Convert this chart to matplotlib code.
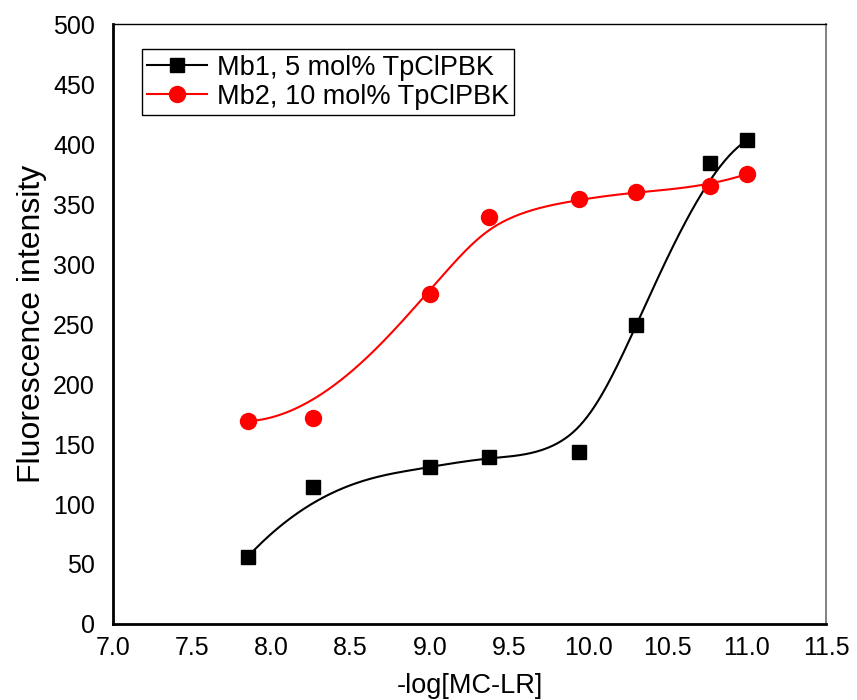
import matplotlib
matplotlib.use("Agg")
import matplotlib.pyplot as plt
import numpy as np

plt.rcParams['font.family'] = ['Liberation Sans', 'DejaVu Sans']

# datos
x_log = [7.85, 8.26, 9.00, 9.37, 9.94, 10.30, 10.77, 11.00]
mb1 = [56, 114, 131, 139, 143, 249, 384, 403]
mb2 = [169, 172, 275, 339, 354, 360, 365, 375]

lbl_mb1 = 'Mb1, 5 mol% TpClPBK'
lbl_mb2 = 'Mb2, 10 mol% TpClPBK'


# curva B-spline cubica (los puntos son puntos de control, como en Origin)
def bspline(px, py, k=3, n_out=400):
    px = np.asarray(px, float)
    py = np.asarray(py, float)
    n = len(px)
    knots = np.concatenate([[0.0] * k, np.linspace(0, 1, n - k + 1), [1.0] * k])
    t = np.linspace(0, 1, n_out)
    N = np.zeros((n_out, len(knots) - 1))
    for i in range(len(knots) - 1):
        N[:, i] = (t >= knots[i]) & (t < knots[i + 1])
    last = np.where(knots[:-1] < knots[1:])[0][-1]
    N[t == 1.0, last] = 1.0
    for d in range(1, k + 1):
        Nn = np.zeros((n_out, len(knots) - 1 - d))
        for i in range(len(knots) - 1 - d):
            a = knots[i + d] - knots[i]
            b = knots[i + d + 1] - knots[i + 1]
            term = 0.0
            if a > 0:
                term = term + (t - knots[i]) / a * N[:, i]
            if b > 0:
                term = term + (knots[i + d + 1] - t) / b * N[:, i + 1]
            Nn[:, i] = term
        N = Nn
    return N @ px, N @ py


fig = plt.figure(figsize=(8.57, 7.0), dpi=100)
ax = fig.add_axes([0.1319, 0.1086, 0.832, 0.857])

bx1, by1 = bspline(x_log, mb1)
bx2, by2 = bspline(x_log, mb2)

ax.plot(bx1, by1, color='black', lw=1.5, zorder=2)
ax.plot(bx2, by2, color='red', lw=1.5, zorder=2)
ax.plot(x_log, mb1, 's', color='black', ms=9.6, zorder=3)
ax.plot(x_log, mb2, 'o', color='red', ms=11.5, zorder=3)

# entradas de leyenda (linea + marcador)
ax.plot([], [], '-s', color='black', lw=1.5, ms=9.6, label=lbl_mb1)
ax.plot([], [], '-o', color='red', lw=1.5, ms=11.5, label=lbl_mb2)

ax.set_xlim(7.0, 11.5)
ax.set_ylim(0, 500)
ax.set_xticks(np.arange(7.0, 11.51, 0.5))
ax.set_xticklabels([f'{v:.1f}' for v in np.arange(7.0, 11.51, 0.5)])
ax.set_yticks(np.arange(0, 501, 50))
ax.tick_params(axis='x', length=0, labelsize=18, pad=9)
ax.tick_params(axis='y', length=0, labelsize=18, pad=13)

ax.set_xlabel('-log[MC-LR]', fontsize=19.5, labelpad=9)
ax.set_ylabel('Fluorescence intensity', fontsize=23, labelpad=4)

ax.spines['left'].set_linewidth(2.0)
ax.spines['bottom'].set_linewidth(2.0)
ax.spines['top'].set_linewidth(1.0)
ax.spines['right'].set_color('#777777')
ax.spines['right'].set_linewidth(1.3)

leg = ax.legend(loc='upper left', bbox_to_anchor=(0.0407, 0.958), fontsize=19.5,
                frameon=True, fancybox=False, edgecolor='black', framealpha=1,
                borderaxespad=0, handlelength=2.2, borderpad=0.2,
                labelspacing=0.12, handletextpad=0.35)
leg.get_frame().set_linewidth(1.0)

fig.savefig('out.png', dpi=100)
